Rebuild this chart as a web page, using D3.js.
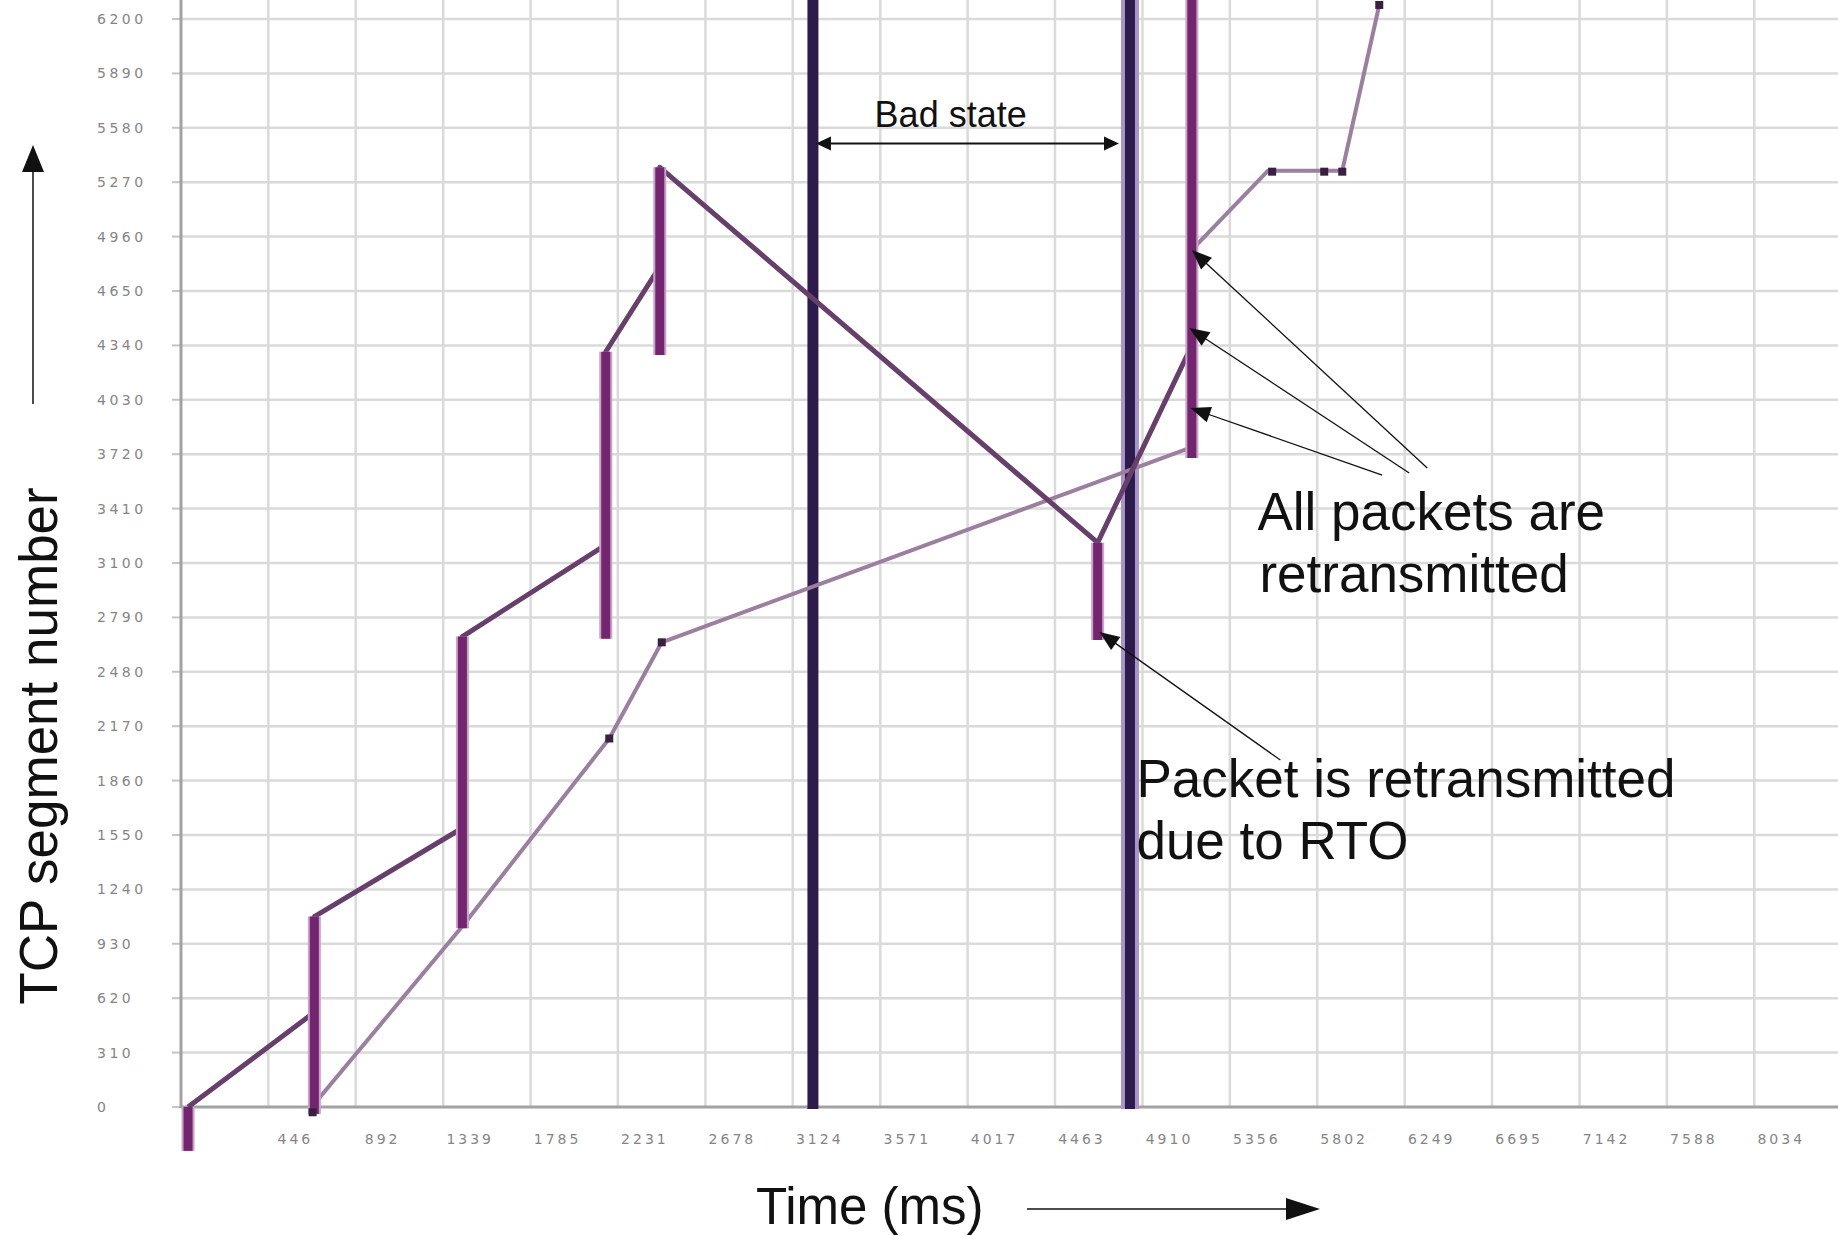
<!DOCTYPE html>
<html><head><meta charset="utf-8">
<script src="https://cdn.jsdelivr.net/npm/d3@7/dist/d3.min.js"></script>
<style>body{margin:0;background:#fff}svg{display:block}</style>
</head><body>
<svg id="chart" width="1838" height="1235"></svg>
<script>
// ---------- data ----------
const yTicks = [0,310,620,930,1240,1550,1860,2170,2480,2790,3100,3410,3720,4030,4340,4650,4960,5270,5580,5890,6200];
const xTicks = [446,892,1339,1785,2231,2678,3124,3571,4017,4463,4910,5356,5802,6249,6695,7142,7588,8034];
// sent segments (time ms, segment number) – vertical jumps are the bursts
const sentLine = [[36,0],[681,540],[681,1085],[1437,1590],[1437,2681],[2169,3203],[2169,4304],[2445,4789],[2445,5355],[4681,3216],[5162,4340]];
// bursts: [time, from segment, to segment]
const bursts = [[36,-250,0],[681,-40,1085],[1437,1018,2681],[2169,2668,4304],[2445,4285,5355],[4681,2661,3216],[5162,3698,6340]];
// acknowledged segments
const ackLine = [[690,30],[1437,1030],[2187,2100],[2455,2648],[5149,3755],[5162,4884],[5550,5335],[5930,5335],[6119,6280]];
const markers = [[672,-30],[2187,2100],[2455,2648],[5572,5330],[5838,5330],[5930,5330],[6119,6280]];
// bad-state boundaries (ms)
const stateLines = [3227, 4846];

// ---------- scales ----------
const W = 1838, H = 1235;
const x = d3.scaleLinear().domain([0, 8480]).range([181, 181 + 87.4 * 19]);
const y = d3.scaleLinear().domain([0, 6200]).range([1107, 19]);
const yTop = 6340;

const svg = d3.select("#chart");
svg.append("rect").attr("width", W).attr("height", H).attr("fill", "#fff");

// grid
const grid = svg.append("g");
grid.selectAll(".vg").data(xTicks).join("line")
  .attr("x1", d => x(d)).attr("x2", d => x(d))
  .attr("y1", y(yTop)).attr("y2", y(0))
  .attr("stroke", "#dadada").attr("stroke-width", 2.5);
grid.selectAll(".hg").data(yTicks.slice(1)).join("line")
  .attr("x1", x(0)).attr("x2", W)
  .attr("y1", d => y(d)).attr("y2", d => y(d))
  .attr("stroke", "#dadada").attr("stroke-width", 2.5);
// y ticks
grid.selectAll(".yt").data(yTicks).join("line")
  .attr("x1", x(0) - 9).attr("x2", x(0))
  .attr("y1", d => y(d)).attr("y2", d => y(d))
  .attr("stroke", "#c4c4c4").attr("stroke-width", 2);

// axes
svg.append("line").attr("x1", x(0)).attr("x2", x(0)).attr("y1", y(yTop)).attr("y2", y(0) + 1)
  .attr("stroke", "#a2a2a2").attr("stroke-width", 3);
svg.append("line").attr("x1", x(0)).attr("x2", W).attr("y1", y(0)).attr("y2", y(0))
  .attr("stroke", "#a2a2a2").attr("stroke-width", 3);

// tick labels
svg.append("g").selectAll("text").data(yTicks).join("text")
  .attr("x", 97).attr("y", d => y(d)).attr("dy", "0.36em")
  .attr("font-family", "DejaVu Sans").attr("font-size", 14).attr("letter-spacing", 3.5)
  .attr("fill", "#858585").text(d => d);
svg.append("g").selectAll("text").data(xTicks).join("text")
  .attr("x", d => x(d) + 27).attr("y", y(0) + 37)
  .attr("text-anchor", "middle")
  .attr("font-family", "DejaVu Sans").attr("font-size", 14).attr("letter-spacing", 3)
  .attr("fill", "#858585").text(d => d);

// bad-state lines
svg.append("line").attr("x1", x(stateLines[1])).attr("x2", x(stateLines[1]))
  .attr("y1", y(yTop)).attr("y2", y(0) + 2).attr("stroke", "#a996c8").attr("stroke-width", 18);
svg.selectAll(".sl").data(stateLines).join("line")
  .attr("x1", d => x(d)).attr("x2", d => x(d))
  .attr("y1", y(yTop)).attr("y2", y(0) + 2)
  .attr("stroke", "#2d1b4c").attr("stroke-width", (d, i) => i === 0 ? 11 : 10);

// series lines
const line = d3.line().x(d => x(d[0])).y(d => y(d[1]));
svg.append("path").datum(ackLine).attr("d", line).attr("fill", "none")
  .attr("stroke", "#9a7f9e").attr("stroke-width", 4).attr("stroke-linejoin", "round");
svg.append("path").datum(sentLine).attr("d", line).attr("fill", "none")
  .attr("stroke", "#66406a").attr("stroke-width", 5).attr("stroke-linejoin", "round");

// bursts (halo + core)
svg.selectAll(".bh").data(bursts).join("line")
  .attr("x1", d => x(d[0])).attr("x2", d => x(d[0]))
  .attr("y1", d => y(d[1])).attr("y2", d => y(d[2]))
  .attr("stroke", "#c9a2c7").attr("stroke-width", 13);
svg.selectAll(".bc").data(bursts).join("line")
  .attr("x1", d => x(d[0])).attr("x2", d => x(d[0]))
  .attr("y1", d => y(d[1])).attr("y2", d => y(d[2]))
  .attr("stroke", "#74256f").attr("stroke-width", 9);

// markers
svg.selectAll(".mk").data(markers).join("rect")
  .attr("x", d => x(d[0]) - 4).attr("y", d => y(d[1]) - 4)
  .attr("width", 8).attr("height", 8).attr("fill", "#3a2040");

// ---------- annotations ----------
function arrowHead(g, tip, from, len, half) {
  const dx = tip[0] - from[0], dy = tip[1] - from[1];
  const L = Math.hypot(dx, dy), ux = dx / L, uy = dy / L;
  const bx = tip[0] - ux * len, by = tip[1] - uy * len;
  g.append("path").attr("d",
    `M${tip[0]},${tip[1]}L${bx - uy * half},${by + ux * half}L${bx + uy * half},${by - ux * half}Z`)
    .attr("fill", "#111");
}
function arrow(g, from, tip, len, half, sw) {
  const dx = tip[0] - from[0], dy = tip[1] - from[1];
  const L = Math.hypot(dx, dy);
  const end = [tip[0] - dx / L * (len - 2), tip[1] - dy / L * (len - 2)];
  g.append("line").attr("x1", from[0]).attr("y1", from[1]).attr("x2", end[0]).attr("y2", end[1])
    .attr("stroke", "#111").attr("stroke-width", sw);
  arrowHead(g, tip, from, len, half);
}
const ann = svg.append("g");
const P = (t, v) => [x(t), y(v)];

// Bad state
const bsY = y(5491);
const bsL = [x(stateLines[0]) + 3, bsY], bsR = [x(stateLines[1]) - 11, bsY];
ann.append("line").attr("x1", bsL[0] + 12).attr("x2", bsR[0] - 12).attr("y1", bsY).attr("y2", bsY)
  .attr("stroke", "#111").attr("stroke-width", 2);
arrowHead(ann, bsL, bsR, 15, 7);
arrowHead(ann, bsR, bsL, 15, 7);
ann.append("text").attr("x", x(3542)).attr("y", y(5585))
  .attr("font-family", "Liberation Sans, Arial, sans-serif").attr("font-size", 36).attr("fill", "#111")
  .text("Bad state");

// All packets are retransmitted
arrow(ann, P(6364, 3641), P(5162, 4884), 20, 8, 1.3);
arrow(ann, P(6272, 3613), P(5149, 4439), 20, 8, 1.3);
arrow(ann, P(6134, 3601), P(5155, 3983), 20, 8, 1.3);
const big = {ff: "Liberation Sans, Arial, sans-serif", fs: 53};
ann.append("text").attr("x", x(5497)).attr("y", y(3288))
  .attr("font-family", big.ff).attr("font-size", big.fs).attr("fill", "#111").text("All packets are");
ann.append("text").attr("x", x(5507)).attr("y", y(2935))
  .attr("font-family", big.ff).attr("font-size", big.fs).attr("fill", "#111").text("retransmitted");

// Packet retransmitted due to RTO
arrow(ann, P(5614, 1977), P(4690, 2707), 20, 8, 1.3);
ann.append("text").attr("x", x(4879)).attr("y", y(1767))
  .attr("font-family", big.ff).attr("font-size", big.fs).attr("fill", "#111").text("Packet is retransmitted");
ann.append("text").attr("x", x(4879)).attr("y", y(1413))
  .attr("font-family", big.ff).attr("font-size", big.fs).attr("fill", "#111").text("due to RTO");

// axis titles with arrows
ann.append("text").attr("transform", "translate(57,746) rotate(-90)")
  .attr("text-anchor", "middle").attr("font-family", big.ff).attr("font-size", big.fs)
  .attr("fill", "#111").text("TCP segment number");
arrow(ann, [33, 404], [33, 145], 27, 11, 1.5);

ann.append("text").attr("x", 756).attr("y", 1224)
  .attr("font-family", big.ff).attr("font-size", 51).attr("fill", "#111").text("Time (ms)");
arrow(ann, [1027, 1209], [1320, 1209], 34, 11, 1.5);
</script>
</body></html>
